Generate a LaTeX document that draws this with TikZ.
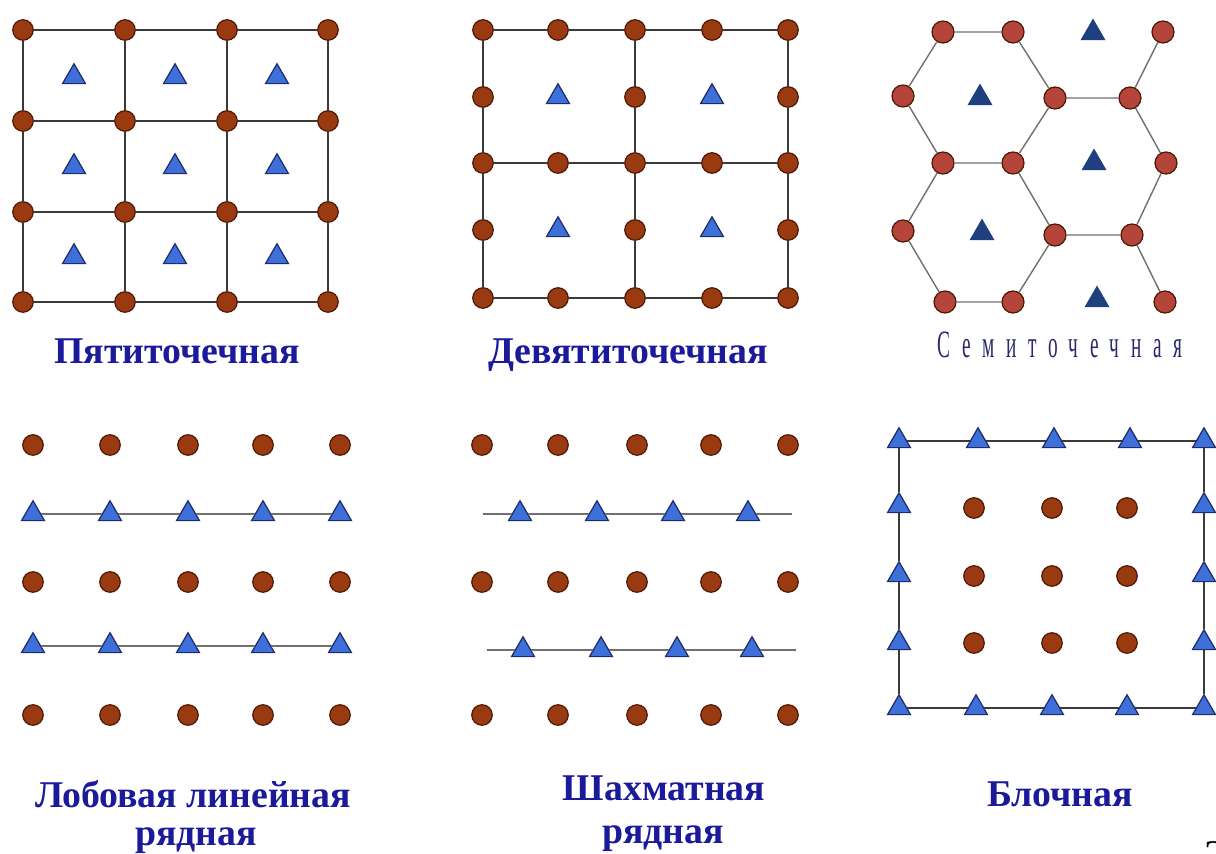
\documentclass[tikz,border=0pt]{standalone}
\usepackage{fontspec}
\setmainfont{Liberation Serif}
\newfontfamily\narrowfont[FakeStretch=0.5,LetterSpace=30]{Liberation Serif}
\usetikzlibrary{shapes.geometric}

\definecolor{prodfill}{HTML}{9A3A10}
\definecolor{prodedge}{HTML}{4E1A06}
\definecolor{hexfill}{HTML}{B5443A}
\definecolor{injfill}{HTML}{3F6FD8}
\definecolor{injedge}{HTML}{1C2C6C}
\definecolor{hexinj}{HTML}{1F3F7E}
\definecolor{gridline}{HTML}{3A3A3A}
\definecolor{rowline}{HTML}{707070}
\definecolor{labelblue}{HTML}{1A1A9A}
\definecolor{hexlabel}{HTML}{2A2A6A}

\tikzset{
  prodwell/.style={circle, draw=prodedge, fill=prodfill, line width=0.7pt, minimum size=0.41cm, inner sep=0pt},
  hexwell/.style={prodwell, fill=hexfill, minimum size=0.44cm},
  injwell/.style={regular polygon, regular polygon sides=3, draw=injedge, fill=injfill, line width=0.7pt, minimum size=0.53cm, inner sep=0pt},
  hexinjwell/.style={injwell, fill=hexinj, draw=hexinj},
  gridln/.style={draw=gridline, line width=0.8pt},
  rowln/.style={draw=rowline, line width=1.1pt},
  caption/.style={font=\bfseries\fontsize{21.5}{25}\selectfont, text=labelblue, inner sep=0pt, align=center}
}

\begin{document}
\begin{tikzpicture}[x=0.02cm, y=-0.02cm]
\useasboundingbox (0,0) rectangle (1216,854);
% five-spot
\begin{scope}
\foreach \i/\x in {1/23,2/125,3/227,4/328}
  \foreach \j/\y in {1/30,2/121,3/212,4/302}
    \node[prodwell] (a\i\j) at (\x,\y) {};
\foreach \i/\x in {1/74,2/175,3/277}
  \foreach \j/\y in {1/77,2/167,3/257}
    \node[injwell] (ai\i\j) at (\x,\y) {};
\foreach \k in {1,...,4} {
  \draw[gridln] (a1\k) -- (a2\k) -- (a3\k) -- (a4\k);
  \draw[gridln] (a\k1) -- (a\k2) -- (a\k3) -- (a\k4);
}
\node[caption, anchor=base] (lbla) at (177,364) {Пятиточечная};
\end{scope}
% nine-spot
\begin{scope}
\foreach \i/\x in {1/483,2/558,3/635,4/712,5/788}
  \foreach \j/\y in {1/30,2/97,3/163,4/230,5/298} {
    \pgfmathtruncatemacro\odd{or(isodd(\i),isodd(\j))}
    \ifnum\odd=1
      \node[prodwell] (b\i\j) at (\x,\y) {};
    \else
      \node[injwell] (b\i\j) at (\x,\y) {};
    \fi
  }
\foreach \k in {1,3,5} {
  \draw[gridln] (b1\k) -- (b2\k) -- (b3\k) -- (b4\k) -- (b5\k);
  \draw[gridln] (b\k1) -- (b\k2) -- (b\k3) -- (b\k4) -- (b\k5);
}
\node[caption, anchor=base] (lblb) at (628,364) {Девятиточечная};
\end{scope}
% seven-spot
\begin{scope}
\foreach \n/\x/\y in {1/943/32, 2/1013/32, 3/1163/32,
                      4/903/96, 5/1055/98, 6/1130/98,
                      7/943/163, 8/1013/163, 9/1166/163,
                      10/903/231, 11/1055/235, 12/1132/235,
                      13/945/302, 14/1013/302, 15/1165/302}
  \node[hexwell] (h\n) at (\x,\y) {};
\foreach \n/\x/\y in {1/1093/33, 2/980/98, 3/1094/163, 4/982/233, 5/1097/300}
  \node[hexinjwell] (ht\n) at (\x,\y) {};
\draw[gridln, draw=rowline] (h1) -- (h2) -- (h5) -- (h8) -- (h7) -- (h4) -- (h1);
\draw[gridln, draw=rowline] (h5) -- (h6) -- (h9) -- (h12) -- (h11) -- (h8);
\draw[gridln, draw=rowline] (h7) -- (h10) -- (h13) -- (h14) -- (h11);
\draw[gridln, draw=rowline] (h6) -- (h3);
\draw[gridln, draw=rowline] (h12) -- (h15);
\node[font=\narrowfont\fontsize{22}{26}\selectfont, text=hexlabel, inner sep=0pt, anchor=base] (lblc) at (1060,358) {Семиточечная};
\end{scope}
% direct line drive
\begin{scope}
\foreach \i/\x in {1/33,2/110,3/188,4/263,5/340} {
  \foreach \j/\y in {1/445,2/582,3/715}
    \node[prodwell] (d\i\j) at (\x,\y) {};
  \node[injwell] (dt\i1) at (\x,514) {};
  \node[injwell] (dt\i2) at (\x,646) {};
}
\draw[rowln] (dt11) -- (dt21) -- (dt31) -- (dt41) -- (dt51);
\draw[rowln] (dt12) -- (dt22) -- (dt32) -- (dt42) -- (dt52);
\node[caption, anchor=base] (lbld) at (193,807) {Лобовая линейная};
\node[caption, anchor=base] (lbld2) at (196,845) {рядная};
\end{scope}
% staggered line drive
\begin{scope}
\foreach \i/\x in {1/482,2/558,3/637,4/711,5/788}
  \foreach \j/\y in {1/445,2/582,3/715}
    \node[prodwell] (e\i\j) at (\x,\y) {};
\foreach \i/\x in {1/520,2/597,3/673,4/748}
  \node[injwell] (et\i1) at (\x,514) {};
\foreach \i/\x in {1/523,2/601,3/677,4/752}
  \node[injwell] (et\i2) at (\x,650) {};
\coordinate (el1) at (483,514);
\coordinate (er1) at (792,514);
\coordinate (el2) at (487,650);
\coordinate (er2) at (796,650);
\draw[rowln] (el1) -- (et11) -- (et21) -- (et31) -- (et41) -- (er1);
\draw[rowln] (el2) -- (et12) -- (et22) -- (et32) -- (et42) -- (er2);
\node[caption, anchor=base] (lble) at (664,800) {Шахматная};
\node[caption, anchor=base] (lble2) at (663,843) {рядная};
\end{scope}
% block
\begin{scope}
\foreach \i/\x in {1/899,2/978,3/1054,4/1130,5/1204}
  \node[injwell] (ft\i) at (\x,441) {};
\foreach \i/\x in {1/899,2/976,3/1052,4/1127,5/1204}
  \node[injwell] (fb\i) at (\x,708) {};
\foreach \i/\y in {1/506,2/575,3/643} {
  \node[injwell] (fl\i) at (899,\y) {};
  \node[injwell] (fr\i) at (1204,\y) {};
}
\foreach \i/\x in {1/974,2/1052,3/1127}
  \foreach \j/\y in {1/508,2/576,3/643}
    \node[prodwell] (f\i\j) at (\x,\y) {};
\draw[gridln] (ft1) -- (ft2) -- (ft3) -- (ft4) -- (ft5) -- (fr1) -- (fr2) -- (fr3) -- (fb5)
  -- (fb4) -- (fb3) -- (fb2) -- (fb1) -- (fl3) -- (fl2) -- (fl1) -- (ft1);
\node[caption, anchor=base] (lblf) at (1060,806) {Блочная};
\end{scope}
\node[font=\fontsize{24}{28}\selectfont, anchor=base] (pgnum) at (1215,869) {2};
\end{tikzpicture}
\end{document}
